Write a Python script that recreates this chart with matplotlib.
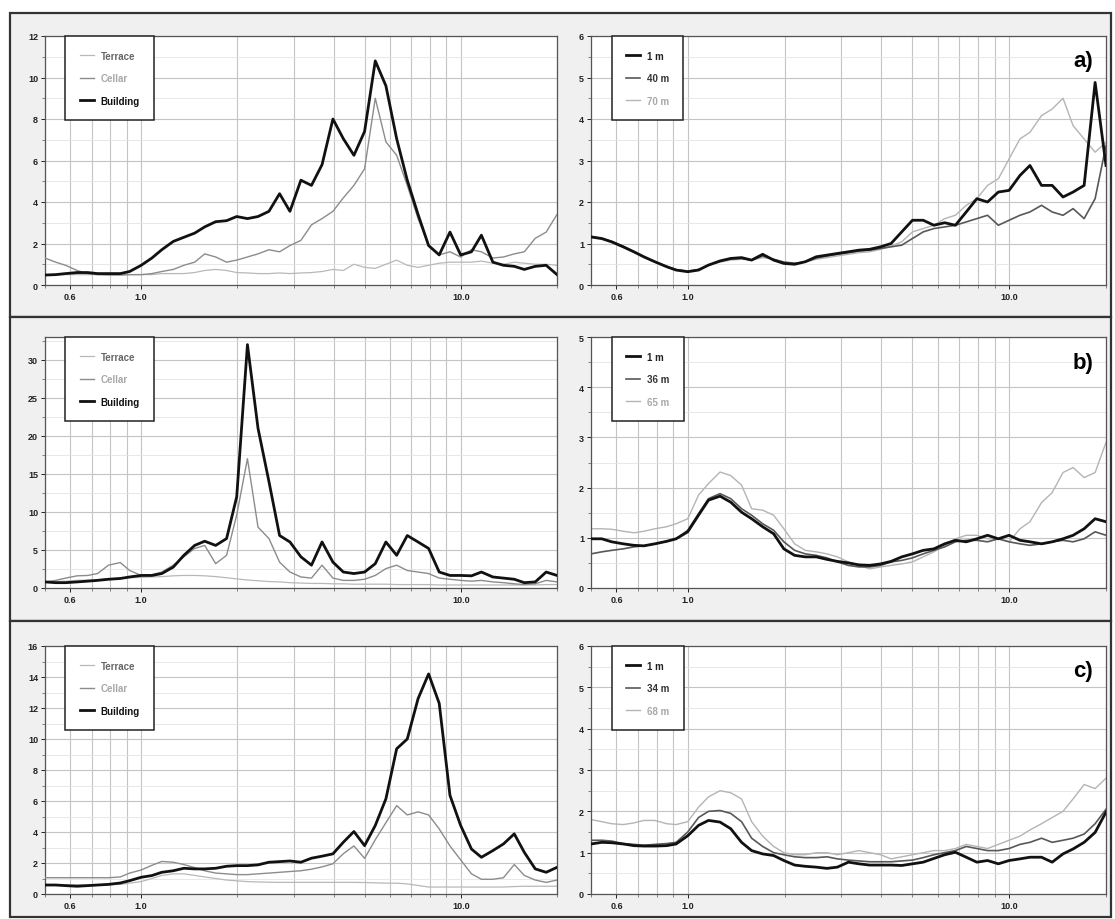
import matplotlib
matplotlib.use("Agg")
import matplotlib.pyplot as plt
from matplotlib.patches import Rectangle
from matplotlib.ticker import FixedLocator, MultipleLocator, NullFormatter

plt.rcParams['font.family'] = ['Liberation Sans', 'DejaVu Sans']

# frequency grid (Hz), shared by all curves
freq = [0.50, 0.54, 0.58, 0.63, 0.68, 0.73, 0.79, 0.86, 0.92, 1.00,
        1.08, 1.16, 1.26, 1.36, 1.47, 1.58, 1.71, 1.85, 1.99, 2.15,
        2.32, 2.51, 2.71, 2.92, 3.16, 3.41, 3.68, 3.98, 4.29, 4.63,
        5.00, 5.40, 5.83, 6.30, 6.80, 7.35, 7.93, 8.56, 9.25, 9.99,
        10.8, 11.6, 12.6, 13.6, 14.7, 15.8, 17.1, 18.5, 20.0]

# --- row a ---
a_terrace = [0.50, 0.50, 0.50, 0.50, 0.50, 0.50, 0.50, 0.50, 0.50, 0.50,
             0.50, 0.55, 0.55, 0.55, 0.60, 0.70, 0.75, 0.70, 0.60, 0.58,
             0.55, 0.55, 0.58, 0.55, 0.58, 0.60, 0.65, 0.75, 0.70, 1.00,
             0.85, 0.80, 1.00, 1.20, 0.95, 0.85, 0.95, 1.05, 1.10, 1.10,
             1.10, 1.15, 1.05, 1.00, 1.10, 1.05, 1.00, 1.00, 0.95]
a_cellar = [1.30, 1.10, 0.95, 0.70, 0.55, 0.50, 0.48, 0.48, 0.50, 0.50,
            0.55, 0.65, 0.75, 0.95, 1.10, 1.50, 1.35, 1.10, 1.20, 1.35,
            1.50, 1.70, 1.60, 1.90, 2.15, 2.90, 3.20, 3.55, 4.20, 4.80,
            5.60, 9.00, 6.90, 6.25, 4.80, 3.20, 1.90, 1.45, 1.60, 1.35,
            1.70, 1.60, 1.30, 1.35, 1.50, 1.60, 2.25, 2.55, 3.40]
a_building = [0.48, 0.50, 0.55, 0.60, 0.60, 0.55, 0.55, 0.55, 0.65, 0.95,
              1.30, 1.70, 2.10, 2.30, 2.50, 2.80, 3.05, 3.10, 3.30, 3.20,
              3.30, 3.55, 4.40, 3.55, 5.05, 4.80, 5.80, 8.00, 7.05, 6.25,
              7.40, 10.8, 9.60, 7.05, 5.05, 3.40, 1.90, 1.45, 2.55, 1.45,
              1.60, 2.40, 1.10, 0.95, 0.90, 0.75, 0.90, 0.95, 0.50]
a_1m = [1.16, 1.12, 1.04, 0.92, 0.80, 0.68, 0.56, 0.44, 0.36, 0.32,
        0.36, 0.48, 0.58, 0.64, 0.66, 0.60, 0.74, 0.60, 0.52, 0.50,
        0.56, 0.68, 0.72, 0.76, 0.80, 0.84, 0.86, 0.92, 1.00, 1.28,
        1.56, 1.56, 1.44, 1.50, 1.44, 1.76, 2.08, 2.00, 2.24, 2.28,
        2.64, 2.88, 2.40, 2.40, 2.12, 2.24, 2.40, 4.88, 2.88]
a_40m = [1.16, 1.12, 1.05, 0.93, 0.80, 0.68, 0.56, 0.45, 0.37, 0.33,
         0.37, 0.48, 0.57, 0.63, 0.64, 0.60, 0.70, 0.62, 0.55, 0.52,
         0.56, 0.65, 0.70, 0.74, 0.78, 0.82, 0.84, 0.88, 0.92, 0.96,
         1.12, 1.28, 1.36, 1.40, 1.44, 1.52, 1.60, 1.68, 1.44, 1.56,
         1.68, 1.76, 1.92, 1.76, 1.68, 1.84, 1.60, 2.08, 3.36]
a_70m = [1.14, 1.10, 1.02, 0.90, 0.78, 0.66, 0.55, 0.44, 0.37, 0.34,
         0.38, 0.47, 0.55, 0.60, 0.62, 0.60, 0.66, 0.62, 0.56, 0.53,
         0.55, 0.62, 0.66, 0.70, 0.74, 0.78, 0.80, 0.86, 0.94, 1.04,
         1.28, 1.36, 1.44, 1.60, 1.68, 1.92, 2.08, 2.40, 2.56, 3.04,
         3.52, 3.68, 4.08, 4.24, 4.50, 3.84, 3.52, 3.20, 3.44]

# --- row b ---
b_terrace = [0.80, 0.85, 0.90, 1.00, 1.05, 1.10, 1.20, 1.30, 1.35, 1.40,
             1.45, 1.50, 1.60, 1.65, 1.65, 1.60, 1.50, 1.35, 1.20, 1.05,
             0.95, 0.85, 0.80, 0.70, 0.65, 0.60, 0.60, 0.55, 0.55, 0.50,
             0.50, 0.50, 0.50, 0.45, 0.45, 0.45, 0.45, 0.40, 0.40, 0.40,
             0.40, 0.40, 0.40, 0.40, 0.40, 0.40, 0.40, 0.45, 0.45]
b_cellar = [0.80, 1.00, 1.30, 1.60, 1.65, 1.90, 3.00, 3.35, 2.30, 1.65,
            1.75, 2.10, 3.00, 4.10, 5.20, 5.60, 3.20, 4.30, 9.60, 17.0,
            8.00, 6.50, 3.40, 2.10, 1.45, 1.30, 3.00, 1.30, 1.00, 1.00,
            1.15, 1.65, 2.55, 3.00, 2.30, 2.10, 1.90, 1.30, 1.15, 1.00,
            0.90, 1.00, 0.80, 0.70, 0.55, 0.45, 0.55, 1.00, 0.80]
b_building = [0.80, 0.70, 0.70, 0.80, 0.90, 1.00, 1.15, 1.25, 1.45, 1.65,
              1.65, 1.90, 2.75, 4.30, 5.60, 6.15, 5.60, 6.50, 12.0, 32.0,
              21.0, 14.0, 6.90, 6.05, 4.10, 3.00, 6.05, 3.40, 2.10, 1.90,
              2.10, 3.20, 6.05, 4.30, 6.90, 6.05, 5.20, 2.10, 1.65, 1.65,
              1.60, 2.10, 1.45, 1.30, 1.15, 0.70, 0.80, 2.10, 1.65]
b_1m = [0.98, 0.98, 0.92, 0.88, 0.85, 0.84, 0.88, 0.93, 0.98, 1.12,
        1.45, 1.75, 1.83, 1.71, 1.51, 1.38, 1.22, 1.08, 0.78, 0.65,
        0.62, 0.62, 0.57, 0.53, 0.50, 0.46, 0.45, 0.48, 0.53, 0.62,
        0.68, 0.75, 0.78, 0.88, 0.95, 0.92, 0.98, 1.05, 0.98, 1.05,
        0.95, 0.92, 0.88, 0.92, 0.98, 1.05, 1.18, 1.38, 1.32]
b_36m = [0.68, 0.72, 0.75, 0.78, 0.82, 0.84, 0.88, 0.93, 0.98, 1.15,
         1.48, 1.78, 1.88, 1.78, 1.58, 1.45, 1.28, 1.15, 0.92, 0.75,
         0.68, 0.65, 0.60, 0.52, 0.45, 0.42, 0.42, 0.45, 0.52, 0.55,
         0.60, 0.68, 0.75, 0.82, 0.92, 0.95, 0.95, 0.92, 0.98, 0.92,
         0.88, 0.85, 0.88, 0.92, 0.95, 0.92, 0.98, 1.12, 1.05]
b_65m = [1.18, 1.18, 1.17, 1.13, 1.10, 1.13, 1.18, 1.22, 1.28, 1.38,
         1.85, 2.08, 2.31, 2.24, 2.05, 1.58, 1.55, 1.45, 1.18, 0.88,
         0.75, 0.72, 0.68, 0.62, 0.52, 0.45, 0.38, 0.42, 0.45, 0.48,
         0.52, 0.62, 0.72, 0.85, 0.98, 1.05, 1.05, 0.98, 0.98, 0.92,
         1.18, 1.32, 1.70, 1.90, 2.30, 2.40, 2.20, 2.30, 2.90]

# --- row c ---
c_terrace = [0.60, 0.60, 0.60, 0.60, 0.60, 0.60, 0.60, 0.62, 0.70, 0.80,
             1.00, 1.20, 1.30, 1.30, 1.20, 1.10, 1.00, 0.90, 0.85, 0.80,
             0.78, 0.76, 0.75, 0.75, 0.75, 0.75, 0.75, 0.75, 0.75, 0.75,
             0.74, 0.72, 0.70, 0.70, 0.65, 0.55, 0.45, 0.45, 0.45, 0.45,
             0.45, 0.45, 0.45, 0.45, 0.48, 0.50, 0.50, 0.50, 0.50]
c_cellar = [1.05, 1.05, 1.05, 1.05, 1.05, 1.05, 1.05, 1.10, 1.35, 1.55,
            1.85, 2.10, 2.05, 1.90, 1.70, 1.50, 1.35, 1.30, 1.25, 1.25,
            1.30, 1.35, 1.40, 1.45, 1.50, 1.60, 1.75, 1.95, 2.60, 3.10,
            2.30, 3.50, 4.60, 5.70, 5.10, 5.30, 5.10, 4.20, 3.10, 2.20,
            1.30, 0.95, 0.95, 1.05, 1.90, 1.20, 0.90, 0.75, 0.90]
c_building = [0.58, 0.58, 0.54, 0.50, 0.54, 0.58, 0.62, 0.71, 0.86, 1.08,
              1.19, 1.40, 1.50, 1.66, 1.62, 1.62, 1.66, 1.79, 1.83, 1.83,
              1.88, 2.05, 2.09, 2.13, 2.05, 2.31, 2.44, 2.59, 3.34, 4.03,
              3.12, 4.42, 6.14, 9.37, 10.0, 12.6, 14.2, 12.3, 6.36, 4.42,
              2.90, 2.37, 2.80, 3.23, 3.88, 2.69, 1.62, 1.40, 1.72]
c_1m = [1.21, 1.25, 1.24, 1.21, 1.17, 1.16, 1.16, 1.17, 1.21, 1.41,
        1.66, 1.78, 1.74, 1.58, 1.25, 1.05, 0.97, 0.93, 0.81, 0.70,
        0.67, 0.65, 0.62, 0.65, 0.77, 0.73, 0.70, 0.70, 0.70, 0.69,
        0.73, 0.77, 0.86, 0.95, 1.01, 0.89, 0.77, 0.81, 0.73, 0.81,
        0.85, 0.89, 0.89, 0.77, 0.97, 1.09, 1.25, 1.49, 1.98]
c_34m = [1.30, 1.30, 1.28, 1.22, 1.20, 1.18, 1.20, 1.22, 1.25, 1.50,
         1.85, 2.00, 2.02, 1.95, 1.75, 1.35, 1.15, 1.00, 0.95, 0.90,
         0.88, 0.88, 0.90, 0.85, 0.82, 0.80, 0.78, 0.78, 0.78, 0.80,
         0.82, 0.88, 0.95, 1.00, 1.05, 1.15, 1.10, 1.05, 1.05, 1.10,
         1.20, 1.25, 1.35, 1.25, 1.30, 1.35, 1.45, 1.70, 2.05]
c_68m = [1.80, 1.75, 1.70, 1.68, 1.72, 1.78, 1.78, 1.70, 1.68, 1.75,
         2.10, 2.35, 2.50, 2.45, 2.30, 1.75, 1.40, 1.15, 1.00, 0.95,
         0.95, 1.00, 1.00, 0.95, 1.00, 1.05, 1.00, 0.95, 0.85, 0.90,
         0.95, 1.00, 1.05, 1.05, 1.10, 1.20, 1.15, 1.10, 1.20, 1.30,
         1.40, 1.55, 1.70, 1.85, 2.00, 2.30, 2.65, 2.55, 2.80]

site_labels = ["Terrace", "Cellar", "Building"]
a_dist_labels = ["1 m", "40 m", "70 m"]
b_dist_labels = ["1 m", "36 m", "65 m"]
c_dist_labels = ["1 m", "34 m", "68 m"]

xtick_vals = [0.6, 1.0, 10.0]
xtick_text = ["0.6", "1.0", "10.0"]
xminor_vals = [0.5, 0.7, 0.8, 0.9, 2, 3, 4, 5, 6, 7, 8, 9, 20]

# (line colour, linewidth, zorder, legend text colour)
site_style = [("#b8b8b8", 0.9, 2, "#666666"), ("#8c8c8c", 1.0, 3, "#a8a8a8"),
              ("#111111", 2.0, 4, "#111111")]
dist_style = [("#111111", 2.0, 4, "#222222"), ("#585858", 1.2, 3, "#333333"),
              ("#b4b4b4", 1.0, 2, "#a8a8a8")]

W, H = 1115, 920
fig = plt.figure(figsize=(W / 100, H / 100), dpi=100, facecolor="white")


def px_box(x0, y0, x1, y1):
    return [x0 / W, 1 - y1 / H, (x1 - x0) / W, (y1 - y0) / H]


# grey panels around each row
for y0, y1 in [(14, 318), (318, 622), (622, 918)]:
    l, b, w, h = px_box(10, y0, 1111, y1)
    fig.patches.append(Rectangle((l, b), w, h, transform=fig.transFigure,
                                 facecolor="#f0f0f0", edgecolor="#333333",
                                 lw=1.6, zorder=-5))


def draw(ax, curves, labels, styles, ymax, ystep, tag=None):
    for y, lab, (c, lw, z, tc) in zip(curves, labels, styles):
        ax.plot(freq, y, color=c, lw=lw, zorder=z, label=lab)
    ax.set_xscale("log")
    ax.set_xlim(0.5, 20)
    ax.set_ylim(0, ymax)
    ax.xaxis.set_major_locator(FixedLocator(xtick_vals))
    ax.xaxis.set_minor_locator(FixedLocator(xminor_vals))
    ax.xaxis.set_minor_formatter(NullFormatter())
    ax.set_xticklabels(xtick_text)
    ax.yaxis.set_major_locator(MultipleLocator(ystep))
    ax.yaxis.set_minor_locator(MultipleLocator(ystep / 2))
    ax.grid(which="both", axis="x", color="#c4c4c4", lw=0.8)
    ax.grid(which="major", axis="y", color="#c4c4c4", lw=0.8)
    ax.grid(which="minor", axis="y", color="#e4e4e4", lw=0.6)
    ax.set_axisbelow(True)
    ax.tick_params(which="major", labelsize=6.5, length=3, width=0.7,
                   colors="#222222", pad=2)
    ax.tick_params(which="minor", length=2, width=0.5, colors="#555555")
    for t in ax.get_xticklabels() + ax.get_yticklabels():
        t.set_fontweight("bold")
    for s in ax.spines.values():
        s.set_color("#555555")
        s.set_linewidth(0.9)
    leg = ax.legend(loc="upper left", bbox_to_anchor=(0.04, 1.0),
                    borderaxespad=0.0, fontsize=7, frameon=True,
                    fancybox=False, edgecolor="#222222", handlelength=1.4,
                    handletextpad=0.7, borderpad=1.5, labelspacing=1.3)
    leg.get_frame().set_linewidth(1.1)
    leg.get_frame().set_facecolor("white")
    leg.get_frame().set_alpha(1)
    for txt, st in zip(leg.get_texts(), styles):
        txt.set_fontweight("bold")
        txt.set_color(st[3])
    if tag:
        ax.text(0.975, 0.9, tag, transform=ax.transAxes, ha="right",
                va="center", fontsize=16, fontweight="bold")


rows = [
    ((37, 286), [a_terrace, a_cellar, a_building], [a_1m, a_40m, a_70m],
     a_dist_labels, 12, 2, 6, "a)"),
    ((338, 589), [b_terrace, b_cellar, b_building], [b_1m, b_36m, b_65m],
     b_dist_labels, 33, 5, 5, "b)"),
    ((647, 895), [c_terrace, c_cellar, c_building], [c_1m, c_34m, c_68m],
     c_dist_labels, 16, 2, 6, "c)"),
]

for (y0, y1), sites, dists, dlabels, ymax_l, step_l, ymax_r, tag in rows:
    axl = fig.add_axes(px_box(45, y0, 557, y1))
    draw(axl, sites, site_labels, site_style, ymax_l, step_l)
    axr = fig.add_axes(px_box(591, y0, 1106, y1))
    draw(axr, dists, dlabels, dist_style, ymax_r, 1, tag)

fig.savefig("out.png", dpi=100, facecolor="white")
